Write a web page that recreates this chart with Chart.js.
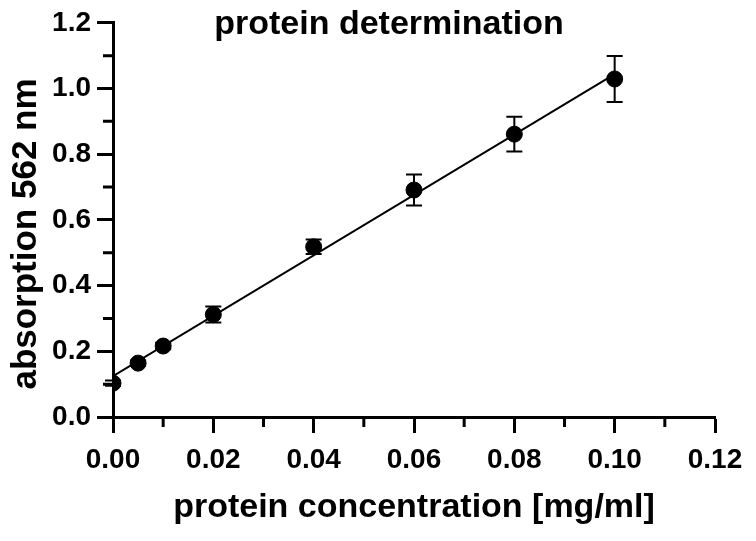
<!DOCTYPE html>
<html>
<head>
<meta charset="utf-8">
<script src="https://cdn.jsdelivr.net/npm/chart.js@4/dist/chart.umd.min.js"></script>
<style>
    html, body { margin: 0; padding: 0; background: #fff; }
</style>
</head>
<body>
<canvas id="chart" width="756" height="541"></canvas>
<script>
const concentration = [0, 0.005, 0.01, 0.02, 0.04, 0.06, 0.08, 0.10];
const absorption = [0.103, 0.164, 0.216, 0.312, 0.518, 0.691, 0.861, 1.029];
const absorptionSd = [0.008, 0.008, 0.010, 0.024, 0.022, 0.047, 0.053, 0.070];
const fitX = [0, 0.10];
const fitY = [0.124, 1.044];
const xTicks = [0, 0.02, 0.04, 0.06, 0.08, 0.10, 0.12];
const yTicks = [0, 0.2, 0.4, 0.6, 0.8, 1.0, 1.2];
const xMinorTicks = [0.01, 0.03, 0.05, 0.07, 0.09, 0.11];
const yMinorTicks = [0.1, 0.3, 0.5, 0.7, 0.9, 1.1];

const FONT = "'Liberation Sans', Arial, sans-serif";

// error bars (SD) drawn from the y scale
const errorBars = {
    id: 'errorBars',
    afterDatasetsDraw(chart) {
        const ctx = chart.ctx;
        const xs = chart.scales.x, ys = chart.scales.y;
        ctx.save();
        ctx.strokeStyle = '#000';
        ctx.lineWidth = 2;
        concentration.forEach((c, i) => {
            const px = xs.getPixelForValue(c);
            const top = ys.getPixelForValue(absorption[i] + absorptionSd[i]);
            const bot = ys.getPixelForValue(absorption[i] - absorptionSd[i]);
            ctx.beginPath();
            ctx.moveTo(px, top); ctx.lineTo(px, bot);
            ctx.moveTo(px - 8, top); ctx.lineTo(px + 8, top);
            ctx.moveTo(px - 8, bot); ctx.lineTo(px + 8, bot);
            ctx.stroke();
        });
        ctx.restore();
    }
};

// short minor ticks between the major ones
const minorTicks = {
    id: 'minorTicks',
    afterDraw(chart) {
        const ctx = chart.ctx;
        const xs = chart.scales.x, ys = chart.scales.y;
        ctx.save();
        ctx.strokeStyle = '#000';
        ctx.lineWidth = 3;
        ctx.beginPath();
        xMinorTicks.forEach(v => {
            const px = xs.getPixelForValue(v);
            ctx.moveTo(px, xs.top); ctx.lineTo(px, xs.top + 10);
        });
        yMinorTicks.forEach(v => {
            const py = ys.getPixelForValue(v);
            ctx.moveTo(ys.right, py); ctx.lineTo(ys.right - 10, py);
        });
        ctx.stroke();
        ctx.restore();
    }
};

// chart title and the y axis title (sits a bit lower than the plot centre)
const titles = {
    id: 'titles',
    afterDraw(chart) {
        const ctx = chart.ctx;
        ctx.save();
        ctx.fillStyle = '#000';
        ctx.font = 'bold 34px ' + FONT;
        ctx.textAlign = 'center';
        ctx.textBaseline = 'alphabetic';
        ctx.fillText('protein determination', 389, 34);

        ctx.font = 'bold 35px ' + FONT;
        ctx.textBaseline = 'middle';
        ctx.translate(26, 234);
        ctx.rotate(-Math.PI / 2);
        ctx.fillText('absorption 562 nm', 0, 0);
        ctx.restore();
    }
};

new Chart(document.getElementById('chart'), {
    data: {
        datasets: [
            {
                type: 'line',
                label: 'fit',
                data: fitX.map((x, i) => ({ x: x, y: fitY[i] })),
                borderColor: '#000',
                borderWidth: 2,
                pointRadius: 0,
                fill: false
            },
            {
                type: 'scatter',
                label: 'absorption',
                data: concentration.map((x, i) => ({ x: x, y: absorption[i] })),
                backgroundColor: '#000',
                borderColor: '#000',
                pointRadius: 8,
                pointHoverRadius: 8
            }
        ]
    },
    options: {
        responsive: false,
        animation: false,
        devicePixelRatio: 1,
        layout: { padding: { left: 0, top: 22, right: 41, bottom: 0 } },
        plugins: {
            legend: { display: false },
            tooltip: { enabled: false }
        },
        scales: {
            x: {
                type: 'linear',
                min: 0,
                max: 0.12,
                afterBuildTicks: s => { s.ticks = xTicks.map(v => ({ value: v })); },
                afterFit: s => { s.height = 124; },
                border: { display: true, color: '#000', width: 3 },
                grid: { drawOnChartArea: false, drawTicks: true, tickLength: 16, tickWidth: 3, tickColor: '#000' },
                ticks: {
                    color: '#000',
                    padding: 10,
                    maxRotation: 0,
                    font: { family: FONT, size: 28, weight: 'bold' },
                    callback: v => Number(v).toFixed(2)
                },
                title: {
                    display: true,
                    text: 'protein concentration [mg/ml]',
                    color: '#000',
                    padding: { top: 0, bottom: 16 },
                    font: { family: FONT, size: 34, weight: 'bold', lineHeight: 1 }
                }
            },
            y: {
                type: 'linear',
                min: 0,
                max: 1.2,
                afterBuildTicks: s => { s.ticks = yTicks.map(v => ({ value: v })); },
                afterFit: s => { s.width = 113; },
                border: { display: true, color: '#000', width: 3 },
                grid: { drawOnChartArea: false, drawTicks: true, tickLength: 16, tickWidth: 3, tickColor: '#000' },
                ticks: {
                    color: '#000',
                    padding: 6,
                    font: { family: FONT, size: 28, weight: 'bold' },
                    callback: v => Number(v).toFixed(1)
                }
            }
        }
    },
    plugins: [errorBars, minorTicks, titles]
});
</script>
</body>
</html>
